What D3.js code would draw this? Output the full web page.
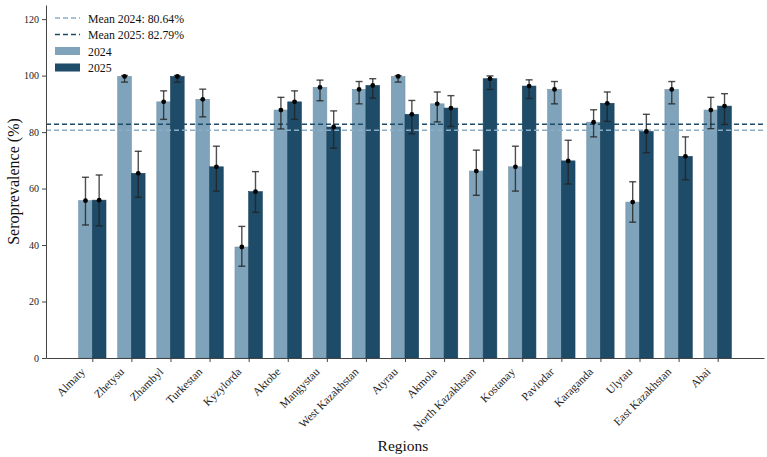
<!DOCTYPE html>
<html>
<head>
<meta charset="utf-8">
<script src="https://cdn.jsdelivr.net/npm/d3@7"></script>
<style>
  body { margin: 0; background: #fff; }
</style>
</head>
<body>
<div id="chart"></div>
<script>
// --------------------------------------------------------
// DATA
// --------------------------------------------------------
const regions = ["Almaty", "Zhetysu", "Zhambyl", "Turkestan", "Kyzylorda", "Aktobe",
  "Mangystau", "West Kazakhstan", "Atyrau", "Akmola", "North Kazakhstan", "Kostanay",
  "Pavlodar", "Karaganda", "Ulytau", "East Kazakhstan", "Abai"];

const val2024 = [55.7, 99.7, 90.7, 91.6, 39.3, 87.8, 95.8, 95.1, 99.7, 90.0, 66.2, 67.7, 95.1, 83.5, 55.2, 95.1, 87.8];
const lo2024  = [47.1, 97.7, 84.5, 85.4, 32.5, 81.1, 91.1, 90.0, 97.7, 83.6, 57.6, 59.1, 90.0, 78.3, 48.1, 90.0, 81.2];
const hi2024  = [64.0, 100,  94.6, 95.2, 46.6, 92.3, 98.4, 97.9, 100,  94.2, 73.6, 75.0, 97.9, 87.9, 62.4, 97.9, 92.3];

const val2025 = [55.9, 65.4, 99.7, 67.7, 58.9, 90.7, 81.8, 96.5, 86.3, 88.5, 98.9, 96.3, 69.8, 90.2, 80.2, 71.4, 89.2];
const lo2025  = [46.8, 56.9, 97.7, 59.1, 51.6, 84.5, 74.3, 92.0, 79.4, 82.0, 95.1, 91.9, 61.6, 83.8, 72.7, 63.1, 82.7];
const hi2025  = [64.8, 73.2, 100,  75.0, 66.0, 94.6, 87.5, 98.9, 91.2, 92.9, 99.9, 98.5, 77.1, 94.2, 86.3, 78.3, 93.6];

const mean2024 = 80.64;
const mean2025 = 82.79;
const yTicks = [0, 20, 40, 60, 80, 100, 120];

// --------------------------------------------------------
// LAYOUT
// --------------------------------------------------------
const width = 767;
const height = 457;
const margin = { top: 5, right: 3, bottom: 99, left: 46 };
const barW = 0.35;

const colLight = "#7fa3ba";
const colDark = "#1e4b68";
const serif = "Liberation Serif, Times New Roman, serif";

const svg = d3.select("#chart").append("svg")
  .attr("width", width)
  .attr("height", height)
  .attr("font-family", serif);

const x = d3.scaleLinear()
  .domain([-1.185, regions.length - 1 + 1.185])
  .range([margin.left, width - margin.right]);

const y = d3.scaleLinear()
  .domain([0, 125])
  .range([height - margin.bottom, margin.top]);

const bw = x(barW) - x(0);

// --------------------------------------------------------
// BARS
// --------------------------------------------------------
const series = [
  { key: "2024", vals: val2024, lo: lo2024, hi: hi2024, color: colLight, off: -barW / 2 },
  { key: "2025", vals: val2025, lo: lo2025, hi: hi2025, color: colDark, off: barW / 2 }
];

series.forEach(s => {
  const g = svg.append("g");
  g.selectAll("rect")
    .data(s.vals)
    .join("rect")
    .attr("x", (d, i) => x(i + s.off) - bw / 2)
    .attr("y", d => y(d))
    .attr("width", bw)
    .attr("height", d => y(0) - y(d))
    .attr("fill", s.color)
    .attr("stroke", d3.color(s.color).darker(0.3))
    .attr("stroke-width", 0.6);
});

// mean lines
svg.append("line")
  .attr("x1", margin.left).attr("x2", width - margin.right)
  .attr("y1", y(mean2024)).attr("y2", y(mean2024))
  .attr("stroke", "#8aaec6").attr("stroke-width", 1.4)
  .attr("stroke-dasharray", "5,3");
svg.append("line")
  .attr("x1", margin.left).attr("x2", width - margin.right)
  .attr("y1", y(mean2025)).attr("y2", y(mean2025))
  .attr("stroke", colDark).attr("stroke-width", 1.4)
  .attr("stroke-dasharray", "5,3");

// error bars
series.forEach(s => {
  const g = svg.append("g").attr("stroke", "#222").attr("stroke-opacity", 0.8).attr("stroke-width", 1.4);
  s.vals.forEach((d, i) => {
    const cx = x(i + s.off);
    g.append("line").attr("x1", cx).attr("x2", cx).attr("y1", y(s.lo[i])).attr("y2", y(s.hi[i]));
    g.append("line").attr("x1", cx - 3.5).attr("x2", cx + 3.5).attr("y1", y(s.lo[i])).attr("y2", y(s.lo[i]));
    g.append("line").attr("x1", cx - 3.5).attr("x2", cx + 3.5).attr("y1", y(s.hi[i])).attr("y2", y(s.hi[i]));
  });
  svg.append("g").selectAll("circle")
    .data(s.vals)
    .join("circle")
    .attr("cx", (d, i) => x(i + s.off))
    .attr("cy", d => y(d))
    .attr("r", 2.4)
    .attr("fill", "#000");
});

// --------------------------------------------------------
// AXES
// --------------------------------------------------------
const xAxis = svg.append("g")
  .attr("transform", `translate(0,${y(0)})`)
  .call(d3.axisBottom(x).tickValues(d3.range(regions.length)).tickFormat(i => regions[i]).tickSize(4).tickSizeOuter(0))
  .attr("font-family", serif);
xAxis.select(".domain").attr("stroke", "#444");
xAxis.selectAll(".tick line").attr("stroke", "#444");
xAxis.selectAll("text")
  .attr("font-size", 11.5)
  .attr("fill", "#222")
  .attr("text-anchor", "end")
  .attr("x", 0)
  .attr("y", 0)
  .attr("dy", 0)
  .attr("transform", "translate(-7,14.5) rotate(-45)");

const yAxis = svg.append("g")
  .attr("transform", `translate(${margin.left},0)`)
  .call(d3.axisLeft(y).tickValues(yTicks).tickSize(4).tickSizeOuter(0))
  .attr("font-family", serif);
yAxis.select(".domain").attr("stroke", "#444");
yAxis.selectAll(".tick line").attr("stroke", "#444");
yAxis.selectAll("text").attr("font-size", 10).attr("fill", "#222");

svg.append("text")
  .attr("transform", `translate(19,${(y(0) + y(125)) / 2}) rotate(-90)`)
  .attr("text-anchor", "middle")
  .attr("font-size", 16)
  .attr("fill", "#111")
  .text("Seroprevalence (%)");

svg.append("text")
  .attr("x", 403)
  .attr("y", 451)
  .attr("text-anchor", "middle")
  .attr("font-size", 15.5)
  .attr("fill", "#111")
  .text("Regions");

// --------------------------------------------------------
// LEGEND
// --------------------------------------------------------
const legendItems = [
  { label: "Mean 2024: 80.64%", type: "line", color: "#8aaec6" },
  { label: "Mean 2025: 82.79%", type: "line", color: colDark },
  { label: "2024", type: "rect", color: colLight },
  { label: "2025", type: "rect", color: colDark }
];
const legend = svg.append("g").attr("transform", "translate(55,18)");
legendItems.forEach((d, i) => {
  const row = legend.append("g").attr("transform", `translate(0,${i * 16.5})`);
  if (d.type === "line") {
    row.append("line").attr("x1", 0).attr("x2", 25).attr("y1", 0).attr("y2", 0)
      .attr("stroke", d.color).attr("stroke-width", 1.4).attr("stroke-dasharray", "5,3");
  } else {
    row.append("rect").attr("x", 0).attr("y", -4).attr("width", 25).attr("height", 8)
      .attr("fill", d.color);
  }
  row.append("text").attr("x", 33).attr("y", 4.5)
    .attr("font-size", 11.8).attr("fill", "#111").text(d.label);
});
</script>
</body>
</html>
